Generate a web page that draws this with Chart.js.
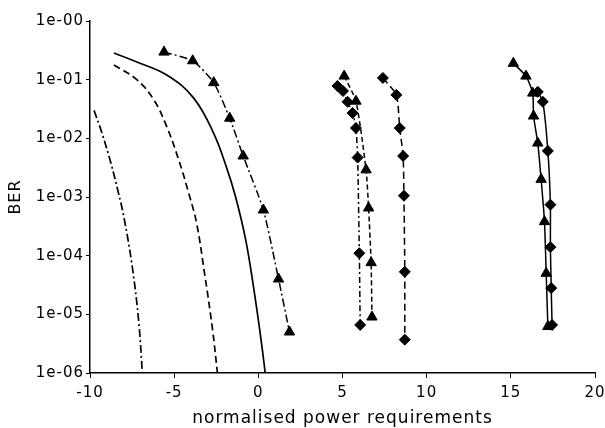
<!DOCTYPE html>
<html>
<head>
<meta charset="utf-8">
<script src="https://cdn.jsdelivr.net/npm/chart.js@4.4.1/dist/chart.umd.min.js"></script>
<style>
  body { margin: 0; background: #fff; }
</style>
</head>
<body>
<canvas id="mycanvas" width="605" height="428"></canvas>
<script>
// axis ticks
var xTicks = [-10, -5, 0, 5, 10, 15, 20];
var yTickValues = [1, 1e-1, 1e-2, 1e-3, 1e-4, 1e-5, 1e-6];
var yTickLabels = ['1e-00', '1e-01', '1e-02', '1e-03', '1e-04', '1e-05', '1e-06'];

// theoretical curves (no markers)
var ddCurveX = [-9.76, -9.29, -8.76, -8.31, -7.99, -7.49, -7.1, -6.89];
var ddCurveBer = [3.0e-2, 1.23e-2, 3.8e-3, 1.17e-3, 4.6e-4, 6.5e-5, 7.2e-6, 1e-6];

var dashCurveX = [-8.58, -7.22, -6.2, -5.44, -4.73, -4.14, -3.67, -3.2, -2.72, -2.43];
var dashCurveBer = [0.178, 0.1, 0.045, 1.58e-2, 4.3e-3, 1.17e-3, 3.6e-4, 5.1e-5, 5.5e-6, 1e-6];

var solidCurveX = [-8.58, -7.22, -5.44, -3.85, -2.66, -1.89, -1.35, -0.75, -0.26, 0.16, 0.41];
var solidCurveBer = [0.285, 0.2, 0.12, 0.049, 1.23e-2, 3.2e-3, 1e-3, 1.86e-4, 2.6e-5, 3.7e-6, 1e-6];

// measured series (with markers)
var triAX = [-5.6, -3.9, -2.65, -1.7, -0.9, 0.3, 1.2, 1.85];
var triABer = [0.295, 0.21, 0.089, 0.022, 5e-3, 6e-4, 4e-5, 5e-6];

var diaBX = [4.7, 5.03, 5.3, 5.6, 5.8, 5.9, 6.0, 6.05];
var diaBBer = [0.078, 0.064, 0.042, 0.027, 0.015, 4.7e-3, 1.1e-4, 6.6e-6];

var triCX = [5.1, 5.8, 6.4, 6.55, 6.7, 6.75];
var triCBer = [0.115, 0.043, 2.9e-3, 6.5e-4, 7.6e-5, 9e-6];

var diaDX = [7.4, 8.2, 8.4, 8.6, 8.65, 8.7, 8.7];
var diaDBer = [0.107, 0.055, 0.015, 5e-3, 1.05e-3, 5.3e-5, 3.7e-6];

var triEX = [15.15, 15.9, 16.3, 16.35, 16.6, 16.8, 17.0, 17.1, 17.2];
var triEBer = [0.19, 0.115, 0.059, 0.024, 8.3e-3, 2e-3, 3.8e-4, 5e-5, 6.2e-6];

var diaFX = [16.6, 16.9, 17.2, 17.35, 17.35, 17.4, 17.45];
var diaFBer = [0.062, 0.042, 6.1e-3, 7.4e-4, 1.4e-4, 2.8e-5, 6.6e-6];

function pts(xs, ys){
	var out = [];
	for(var i in xs){
		out.push({x: xs[i], y: ys[i]});
	}
	return out;
}

function curve(xs, ys, dash){
	return {
		data: pts(xs, ys),
		showLine: true,
		borderColor: '#000',
		borderWidth: 1.7,
		borderDash: dash,
		pointRadius: 0,
		tension: 0.4
	};
}

function measured(xs, ys, dash, style, r){
	return {
		data: pts(xs, ys),
		showLine: true,
		borderColor: '#000',
		borderWidth: 1.5,
		borderDash: dash,
		tension: 0.2,
		pointStyle: style,
		pointRadius: r,
		pointBackgroundColor: '#000',
		pointBorderColor: '#000',
		pointBorderWidth: 1
	};
}

var dashDot = [8, 3, 2, 3];
var dashed = [7, 4];

var spacing = {
	id: 'spacing',
	beforeUpdate: function(chart){ chart.ctx.letterSpacing = '1px'; },
	beforeDraw: function(chart){ chart.ctx.letterSpacing = '1px'; }
};

var tickFont = { family: 'DejaVu Sans', size: 15 };
var titleFont = { family: 'DejaVu Sans', size: 17 };

var ctx = document.getElementById('mycanvas');

var berChart = new Chart(ctx, {
	type: 'scatter',
	data: {
		datasets: [
			curve(ddCurveX, ddCurveBer, dashDot),
			curve(dashCurveX, dashCurveBer, dashed),
			curve(solidCurveX, solidCurveBer, []),
			measured(triAX, triABer, dashDot, 'triangle', 6),
			measured(diaBX, diaBBer, [6, 3, 2, 3], 'rectRot', 5.5),
			measured(triCX, triCBer, [5, 3], 'triangle', 6),
			measured(diaDX, diaDBer, dashed, 'rectRot', 5.5),
			measured(triEX, triEBer, [], 'triangle', 6),
			measured(diaFX, diaFBer, [], 'rectRot', 5.5)
		]
	},
	options: {
		responsive: false,
		animation: false,
		devicePixelRatio: 1,
		layout: { padding: { left: 0, right: 10, top: 21, bottom: 0 } },
		plugins: { legend: { display: false }, tooltip: { enabled: false } },
		scales: {
			x: {
				type: 'linear',
				min: -10,
				max: 20,
				afterBuildTicks: function(scale){
					scale.ticks = xTicks.map(function(v){ return {value: v}; });
				},
				afterFit: function(scale){
					scale.height = 55;
					scale.paddingLeft = 0;
					scale.paddingRight = 0;
				},
				border: { color: '#000', width: 1.5 },
				grid: { drawOnChartArea: false, color: '#000', tickLength: 5 },
				ticks: { color: '#000', font: tickFont, padding: 6, maxRotation: 0 },
				title: {
					display: true,
					text: 'normalised power requirements',
					color: '#000',
					font: titleFont,
					padding: { top: 2, bottom: -1 }
				}
			},
			y: {
				type: 'logarithmic',
				min: 1e-6,
				max: 1,
				afterBuildTicks: function(scale){
					scale.ticks = yTickValues.map(function(v){ return {value: v}; });
				},
				afterFit: function(scale){
					scale.width = 90;
					scale.paddingTop = 0;
					scale.paddingBottom = 0;
				},
				border: { color: '#000', width: 1.5 },
				grid: { drawOnChartArea: false, color: '#000', tickLength: 4 },
				ticks: {
					color: '#000',
					font: tickFont,
					padding: 2,
					callback: function(value){
						var i = yTickValues.indexOf(value);
						return i >= 0 ? yTickLabels[i] : '';
					}
				},
				title: {
					display: true,
					text: 'BER',
					color: '#000',
					font: { family: 'DejaVu Sans', size: 16 },
					padding: { top: 6, bottom: 4 }
				}
			}
		}
	},
	plugins: [spacing]
});
</script>
</body>
</html>
